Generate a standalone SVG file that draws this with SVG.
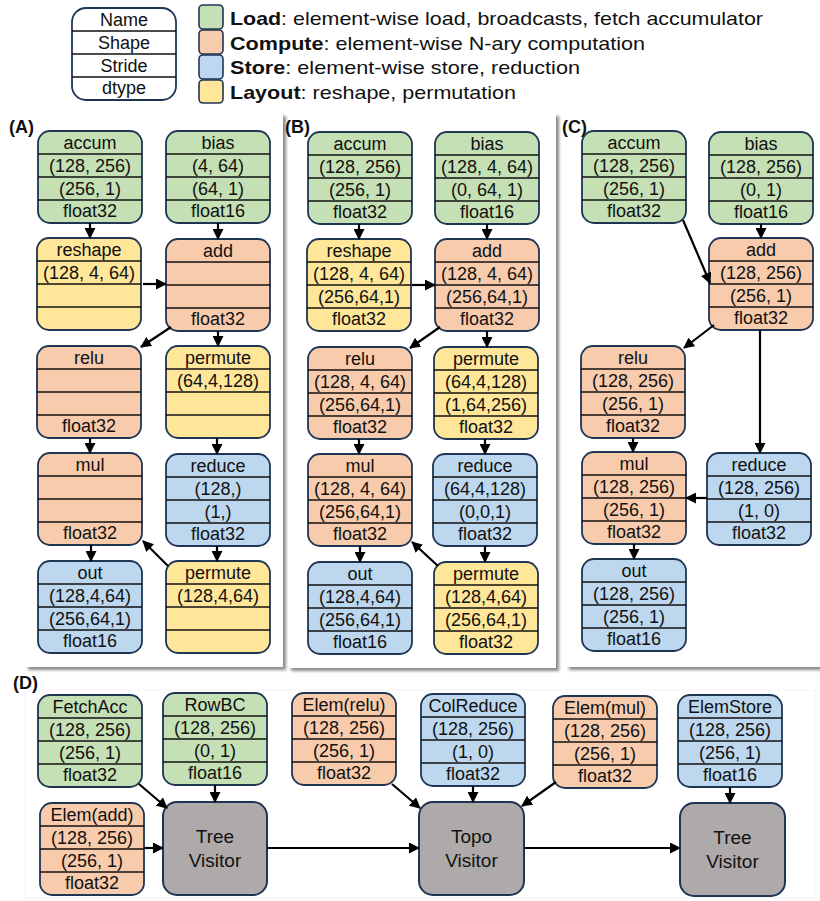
<svg xmlns="http://www.w3.org/2000/svg" width="820" height="901" viewBox="0 0 820 901">
  <defs>
    <marker id="arrow" markerUnits="userSpaceOnUse" markerWidth="11" markerHeight="11" refX="10" refY="5.5" orient="auto">
      <path d="M0,0 L11,5.5 L0,11 z" fill="#000"/>
    </marker>
    <filter id="shadow" x="-5%" y="-5%" width="115%" height="115%">
      <feDropShadow dx="3" dy="3" stdDeviation="1.6" flood-color="#7f7f7f" flood-opacity="0.9"/>
    </filter>
  </defs>
  <style>
    text { font-family: "Liberation Sans", Arial, sans-serif; font-size: 18px; fill: #111; text-anchor: middle; }
    .box { stroke: #1f3554; stroke-width: 1.8; }
    .div { stroke: #111; stroke-width: 1.6; fill: none; }
    .load .box { fill: #c5e0b4; }
    .compute .box { fill: #f8cbad; }
    .store .box { fill: #bdd7ee; }
    .layout .box { fill: #ffe699; }
    .visitor .box { fill: #aeaaaa; stroke-width: 2; }
    .legend .box { fill: #fff; }
    .swatch { stroke: #1f3554; stroke-width: 1.6; }
    .legend-text { text-anchor: start; font-size: 19px; }
    .legend-text tspan.b { font-weight: bold; }
    .panel-label { font-weight: bold; font-size: 18px; text-anchor: start; }
    .panel { fill: #fff; filter: url(#shadow); }
    .visitor text { font-size: 19px; }
    #connectors path { stroke: #000; stroke-width: 2.2; fill: none; marker-end: url(#arrow); }
  </style>

  <rect width="820" height="901" fill="#fff"/>

  <!-- legend -->
  <g id="legend-node" class="legend" transform="translate(72,8)">
    <rect class="box" width="104" height="92" rx="14"/>
    <path class="div" d="M0 23H104M0 46H104M0 69H104"/>
    <text x="52" y="17.5">Name</text>
    <text x="52" y="40.5">Shape</text>
    <text x="52" y="63.5">Stride</text>
    <text x="52" y="86">dtype</text>
  </g>
  <g id="legend-kinds">
    <rect class="swatch" x="199" y="5" width="24" height="24" rx="4" fill="#c5e0b4"/>
    <rect class="swatch" x="199" y="30" width="24" height="24" rx="4" fill="#f8cbad"/>
    <rect class="swatch" x="199" y="55" width="24" height="24" rx="4" fill="#bdd7ee"/>
    <rect class="swatch" x="199" y="80" width="24" height="23" rx="4" fill="#ffe699"/>
    <text class="legend-text" x="230" y="25" textLength="533" lengthAdjust="spacingAndGlyphs"><tspan class="b">Load</tspan>: element-wise load, broadcasts, fetch accumulator</text>
    <text class="legend-text" x="230" y="50" textLength="415" lengthAdjust="spacingAndGlyphs"><tspan class="b">Compute</tspan>: element-wise N-ary computation</text>
    <text class="legend-text" x="230" y="74" textLength="350" lengthAdjust="spacingAndGlyphs"><tspan class="b">Store</tspan>: element-wise store, reduction</text>
    <text class="legend-text" x="230" y="99" textLength="286" lengthAdjust="spacingAndGlyphs"><tspan class="b">Layout</tspan>: reshape, permutation</text>
  </g>

  <!-- panel backgrounds -->
  <rect class="panel" x="25" y="113" width="258" height="554"/>
  <rect class="panel" x="288" y="113" width="268" height="555"/>
  <rect class="panel" x="566" y="113" width="260" height="554"/>
  <rect x="25" y="690" width="790" height="208" fill="#fff" stroke="#f6f6f6" stroke-width="1.2"/>

  <text class="panel-label" x="9" y="133">(A)</text>
  <text class="panel-label" x="285" y="133">(B)</text>
  <text class="panel-label" x="562" y="133">(C)</text>
  <text class="panel-label" x="13" y="689">(D)</text>

  <!-- (A) -->
  <g id="a-accum" class="node load" transform="translate(38,131)">
    <rect class="box" width="104" height="92" rx="12"/><path class="div" d="M0 23H104M0 46H104M0 69H104"/>
    <text x="52" y="17.5">accum</text><text x="52" y="40.5">(128, 256)</text><text x="52" y="63.5">(256, 1)</text><text x="52" y="86">float32</text>
  </g>
  <g id="a-bias" class="node load" transform="translate(166,131)">
    <rect class="box" width="104" height="92" rx="12"/><path class="div" d="M0 23H104M0 46H104M0 69H104"/>
    <text x="52" y="17.5">bias</text><text x="52" y="40.5">(4, 64)</text><text x="52" y="63.5">(64, 1)</text><text x="52" y="86">float16</text>
  </g>
  <g id="a-reshape" class="node layout" transform="translate(37,238)">
    <rect class="box" width="104" height="92" rx="12"/><path class="div" d="M0 23H104M0 46H104M0 69H104"/>
    <text x="52" y="17.5">reshape</text><text x="52" y="40.5">(128, 4, 64)</text>
  </g>
  <g id="a-add" class="node compute" transform="translate(166,239)">
    <rect class="box" width="104" height="92" rx="12"/><path class="div" d="M0 23H104M0 46H104M0 69H104"/>
    <text x="52" y="17.5">add</text><text x="52" y="86">float32</text>
  </g>
  <g id="a-relu" class="node compute" transform="translate(37,346)">
    <rect class="box" width="104" height="92" rx="12"/><path class="div" d="M0 23H104M0 46H104M0 69H104"/>
    <text x="52" y="17.5">relu</text><text x="52" y="86">float32</text>
  </g>
  <g id="a-permute" class="node layout" transform="translate(166,346)">
    <rect class="box" width="104" height="92" rx="12"/><path class="div" d="M0 23H104M0 46H104M0 69H104"/>
    <text x="52" y="17.5">permute</text><text x="52" y="40.5">(64,4,128)</text>
  </g>
  <g id="a-mul" class="node compute" transform="translate(38,453)">
    <rect class="box" width="104" height="92" rx="12"/><path class="div" d="M0 23H104M0 46H104M0 69H104"/>
    <text x="52" y="17.5">mul</text><text x="52" y="86">float32</text>
  </g>
  <g id="a-reduce" class="node store" transform="translate(166,454)">
    <rect class="box" width="104" height="92" rx="12"/><path class="div" d="M0 23H104M0 46H104M0 69H104"/>
    <text x="52" y="17.5">reduce</text><text x="52" y="40.5">(128,)</text><text x="52" y="63.5">(1,)</text><text x="52" y="86">float32</text>
  </g>
  <g id="a-out" class="node store" transform="translate(38,561)">
    <rect class="box" width="104" height="92" rx="12"/><path class="div" d="M0 23H104M0 46H104M0 69H104"/>
    <text x="52" y="17.5">out</text><text x="52" y="40.5">(128,4,64)</text><text x="52" y="63.5">(256,64,1)</text><text x="52" y="86">float16</text>
  </g>
  <g id="a-permute2" class="node layout" transform="translate(166,561)">
    <rect class="box" width="104" height="92" rx="12"/><path class="div" d="M0 23H104M0 46H104M0 69H104"/>
    <text x="52" y="17.5">permute</text><text x="52" y="40.5">(128,4,64)</text>
  </g>

  <!-- (B) -->
  <g id="b-accum" class="node load" transform="translate(308,132)">
    <rect class="box" width="104" height="92" rx="12"/><path class="div" d="M0 23H104M0 46H104M0 69H104"/>
    <text x="52" y="17.5">accum</text><text x="52" y="40.5">(128, 256)</text><text x="52" y="63.5">(256, 1)</text><text x="52" y="86">float32</text>
  </g>
  <g id="b-bias" class="node load" transform="translate(435,132)">
    <rect class="box" width="104" height="92" rx="12"/><path class="div" d="M0 23H104M0 46H104M0 69H104"/>
    <text x="52" y="17.5">bias</text><text x="52" y="40.5">(128, 4, 64)</text><text x="52" y="63.5">(0, 64, 1)</text><text x="52" y="86">float16</text>
  </g>
  <g id="b-reshape" class="node layout" transform="translate(307,239)">
    <rect class="box" width="104" height="92" rx="12"/><path class="div" d="M0 23H104M0 46H104M0 69H104"/>
    <text x="52" y="17.5">reshape</text><text x="52" y="40.5">(128, 4, 64)</text><text x="52" y="63.5">(256,64,1)</text><text x="52" y="86">float32</text>
  </g>
  <g id="b-add" class="node compute" transform="translate(435,239)">
    <rect class="box" width="104" height="92" rx="12"/><path class="div" d="M0 23H104M0 46H104M0 69H104"/>
    <text x="52" y="17.5">add</text><text x="52" y="40.5">(128, 4, 64)</text><text x="52" y="63.5">(256,64,1)</text><text x="52" y="86">float32</text>
  </g>
  <g id="b-relu" class="node compute" transform="translate(308,347)">
    <rect class="box" width="104" height="92" rx="12"/><path class="div" d="M0 23H104M0 46H104M0 69H104"/>
    <text x="52" y="17.5">relu</text><text x="52" y="40.5">(128, 4, 64)</text><text x="52" y="63.5">(256,64,1)</text><text x="52" y="86">float32</text>
  </g>
  <g id="b-permute" class="node layout" transform="translate(434,347)">
    <rect class="box" width="104" height="92" rx="12"/><path class="div" d="M0 23H104M0 46H104M0 69H104"/>
    <text x="52" y="17.5">permute</text><text x="52" y="40.5">(64,4,128)</text><text x="52" y="63.5">(1,64,256)</text><text x="52" y="86">float32</text>
  </g>
  <g id="b-mul" class="node compute" transform="translate(308,454)">
    <rect class="box" width="104" height="92" rx="12"/><path class="div" d="M0 23H104M0 46H104M0 69H104"/>
    <text x="52" y="17.5">mul</text><text x="52" y="40.5">(128, 4, 64)</text><text x="52" y="63.5">(256,64,1)</text><text x="52" y="86">float32</text>
  </g>
  <g id="b-reduce" class="node store" transform="translate(433,454)">
    <rect class="box" width="104" height="92" rx="12"/><path class="div" d="M0 23H104M0 46H104M0 69H104"/>
    <text x="52" y="17.5">reduce</text><text x="52" y="40.5">(64,4,128)</text><text x="52" y="63.5">(0,0,1)</text><text x="52" y="86">float32</text>
  </g>
  <g id="b-out" class="node store" transform="translate(308,562)">
    <rect class="box" width="104" height="92" rx="12"/><path class="div" d="M0 23H104M0 46H104M0 69H104"/>
    <text x="52" y="17.5">out</text><text x="52" y="40.5">(128,4,64)</text><text x="52" y="63.5">(256,64,1)</text><text x="52" y="86">float16</text>
  </g>
  <g id="b-permute2" class="node layout" transform="translate(434,562)">
    <rect class="box" width="104" height="92" rx="12"/><path class="div" d="M0 23H104M0 46H104M0 69H104"/>
    <text x="52" y="17.5">permute</text><text x="52" y="40.5">(128,4,64)</text><text x="52" y="63.5">(256,64,1)</text><text x="52" y="86">float32</text>
  </g>

  <!-- (C) -->
  <g id="c-accum" class="node load" transform="translate(582,131)">
    <rect class="box" width="104" height="92" rx="12"/><path class="div" d="M0 23H104M0 46H104M0 69H104"/>
    <text x="52" y="17.5">accum</text><text x="52" y="40.5">(128, 256)</text><text x="52" y="63.5">(256, 1)</text><text x="52" y="86">float32</text>
  </g>
  <g id="c-bias" class="node load" transform="translate(709,132)">
    <rect class="box" width="104" height="92" rx="12"/><path class="div" d="M0 23H104M0 46H104M0 69H104"/>
    <text x="52" y="17.5">bias</text><text x="52" y="40.5">(128, 256)</text><text x="52" y="63.5">(0, 1)</text><text x="52" y="86">float16</text>
  </g>
  <g id="c-add" class="node compute" transform="translate(709,238)">
    <rect class="box" width="104" height="92" rx="12"/><path class="div" d="M0 23H104M0 46H104M0 69H104"/>
    <text x="52" y="17.5">add</text><text x="52" y="40.5">(128, 256)</text><text x="52" y="63.5">(256, 1)</text><text x="52" y="86">float32</text>
  </g>
  <g id="c-relu" class="node compute" transform="translate(581,346)">
    <rect class="box" width="104" height="92" rx="12"/><path class="div" d="M0 23H104M0 46H104M0 69H104"/>
    <text x="52" y="17.5">relu</text><text x="52" y="40.5">(128, 256)</text><text x="52" y="63.5">(256, 1)</text><text x="52" y="86">float32</text>
  </g>
  <g id="c-mul" class="node compute" transform="translate(582,452)">
    <rect class="box" width="104" height="92" rx="12"/><path class="div" d="M0 23H104M0 46H104M0 69H104"/>
    <text x="52" y="17.5">mul</text><text x="52" y="40.5">(128, 256)</text><text x="52" y="63.5">(256, 1)</text><text x="52" y="86">float32</text>
  </g>
  <g id="c-reduce" class="node store" transform="translate(707,453)">
    <rect class="box" width="104" height="92" rx="12"/><path class="div" d="M0 23H104M0 46H104M0 69H104"/>
    <text x="52" y="17.5">reduce</text><text x="52" y="40.5">(128, 256)</text><text x="52" y="63.5">(1, 0)</text><text x="52" y="86">float32</text>
  </g>
  <g id="c-out" class="node store" transform="translate(582,559)">
    <rect class="box" width="104" height="92" rx="12"/><path class="div" d="M0 23H104M0 46H104M0 69H104"/>
    <text x="52" y="17.5">out</text><text x="52" y="40.5">(128, 256)</text><text x="52" y="63.5">(256, 1)</text><text x="52" y="86">float16</text>
  </g>

  <!-- (D) -->
  <g id="d-fetchacc" class="node load" transform="translate(38,695)">
    <rect class="box" width="104" height="92" rx="12"/><path class="div" d="M0 23H104M0 46H104M0 69H104"/>
    <text x="52" y="17.5">FetchAcc</text><text x="52" y="40.5">(128, 256)</text><text x="52" y="63.5">(256, 1)</text><text x="52" y="86">float32</text>
  </g>
  <g id="d-rowbc" class="node load" transform="translate(163,693)">
    <rect class="box" width="104" height="92" rx="12"/><path class="div" d="M0 23H104M0 46H104M0 69H104"/>
    <text x="52" y="17.5">RowBC</text><text x="52" y="40.5">(128, 256)</text><text x="52" y="63.5">(0, 1)</text><text x="52" y="86">float16</text>
  </g>
  <g id="d-elem-relu" class="node compute" transform="translate(292,693)">
    <rect class="box" width="104" height="92" rx="12"/><path class="div" d="M0 23H104M0 46H104M0 69H104"/>
    <text x="52" y="17.5">Elem(relu)</text><text x="52" y="40.5">(128, 256)</text><text x="52" y="63.5">(256, 1)</text><text x="52" y="86">float32</text>
  </g>
  <g id="d-elem-add" class="node compute" transform="translate(40,803)">
    <rect class="box" width="104" height="92" rx="12"/><path class="div" d="M0 23H104M0 46H104M0 69H104"/>
    <text x="52" y="17.5">Elem(add)</text><text x="52" y="40.5">(128, 256)</text><text x="52" y="63.5">(256, 1)</text><text x="52" y="86">float32</text>
  </g>
  <g id="d-colreduce" class="node store" transform="translate(421,694)">
    <rect class="box" width="104" height="92" rx="12"/><path class="div" d="M0 23H104M0 46H104M0 69H104"/>
    <text x="52" y="17.5">ColReduce</text><text x="52" y="40.5">(128, 256)</text><text x="52" y="63.5">(1, 0)</text><text x="52" y="86">float32</text>
  </g>
  <g id="d-elem-mul" class="node compute" transform="translate(553,696)">
    <rect class="box" width="104" height="92" rx="12"/><path class="div" d="M0 23H104M0 46H104M0 69H104"/>
    <text x="52" y="17.5">Elem(mul)</text><text x="52" y="40.5">(128, 256)</text><text x="52" y="63.5">(256, 1)</text><text x="52" y="86">float32</text>
  </g>
  <g id="d-elemstore" class="node store" transform="translate(678,695)">
    <rect class="box" width="104" height="92" rx="12"/><path class="div" d="M0 23H104M0 46H104M0 69H104"/>
    <text x="52" y="17.5">ElemStore</text><text x="52" y="40.5">(128, 256)</text><text x="52" y="63.5">(256, 1)</text><text x="52" y="86">float16</text>
  </g>
  <g id="d-tree1" class="node visitor" transform="translate(163,802)">
    <rect class="box" width="104" height="93" rx="14"/>
    <text x="52" y="41">Tree</text><text x="52" y="65">Visitor</text>
  </g>
  <g id="d-topo" class="node visitor" transform="translate(419,802)">
    <rect class="box" width="105" height="93" rx="14"/>
    <text x="52.5" y="41">Topo</text><text x="52.5" y="65">Visitor</text>
  </g>
  <g id="d-tree2" class="node visitor" transform="translate(680,803)">
    <rect class="box" width="105" height="93" rx="14"/>
    <text x="52.5" y="41">Tree</text><text x="52.5" y="65">Visitor</text>
  </g>

  <g id="connectors">
    <!-- (A) -->
    <path d="M90 223V238"/>
    <path d="M218 223V239"/>
    <path d="M143 284H166"/>
    <path d="M171 327L141 347"/>
    <path d="M218 331V346"/>
    <path d="M90 438V453"/>
    <path d="M217 438V454"/>
    <path d="M91 545V561"/>
    <path d="M217 546V561"/>
    <path d="M168 566L143 541"/>
    <!-- (B) -->
    <path d="M359 224V239"/>
    <path d="M487 224V239"/>
    <path d="M412 285H435"/>
    <path d="M440 327L410 348"/>
    <path d="M487 331V347"/>
    <path d="M359 439V454"/>
    <path d="M485 439V454"/>
    <path d="M360 546V562"/>
    <path d="M485 546V562"/>
    <path d="M438 566L412 542"/>
    <!-- (C) -->
    <path d="M683 220L710 283"/>
    <path d="M761 224V238"/>
    <path d="M714 325L684 348"/>
    <path d="M760 330V453"/>
    <path d="M633 438V452"/>
    <path d="M707 498H686"/>
    <path d="M634 544V559"/>
    <!-- (D) -->
    <path d="M139 784L167 808"/>
    <path d="M215 785V802"/>
    <path d="M144 848H163"/>
    <path d="M267 848H419"/>
    <path d="M392 784L420 808"/>
    <path d="M473 786V802"/>
    <path d="M556 782L522 806"/>
    <path d="M524 848H680"/>
    <path d="M730 787V803"/>
  </g>
</svg>
